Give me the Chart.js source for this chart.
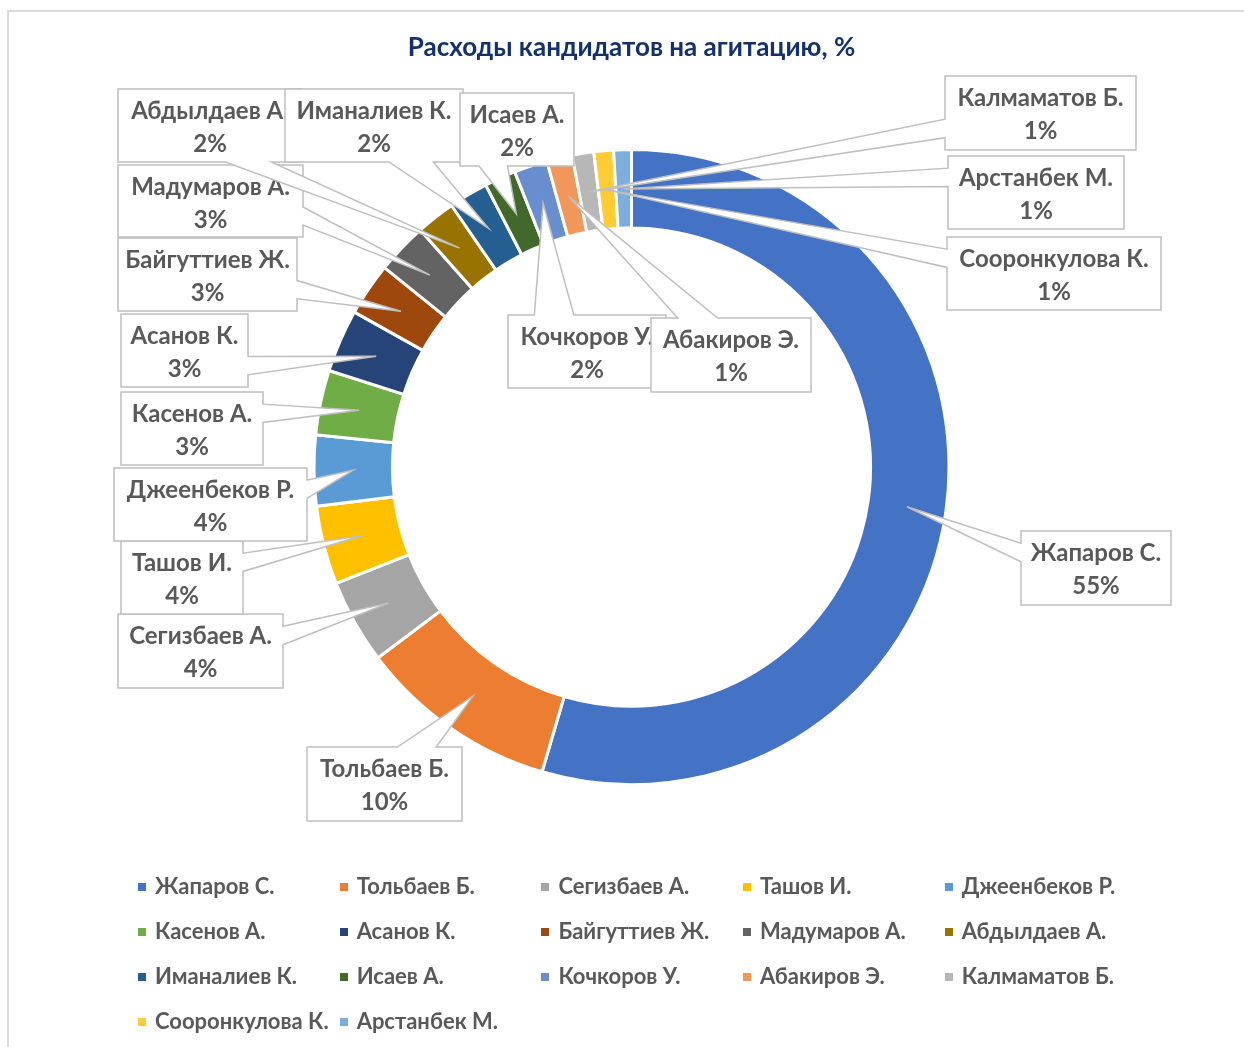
<!DOCTYPE html>
<html>
<head>
<meta charset="utf-8">
<script src="https://cdn.jsdelivr.net/npm/chart.js@4.4.1/dist/chart.umd.min.js"></script>
<style>
  html, body { margin: 0; padding: 0; background: #fff; overflow: hidden; }
  #frame { position: absolute; left: 7px; top: 10px; width: 1300px; height: 1100px;
           border: 2px solid #d9d9d9; box-sizing: border-box; }
  #wrap { position: absolute; left: 0; top: 0; width: 1244px; height: 1047px; }
  #legend { position: absolute; left: 0; top: 0; font-family: Lato, sans-serif;
            font-weight: bold; font-size: 22px; color: #595959; }
  .item { position: absolute; white-space: nowrap; height: 0; }
  .item i { position: absolute; left: 0; top: -4px; width: 8px; height: 8px; }
  .item span { position: absolute; left: 17px; top: -14px; line-height: 26px; }
</style>
</head>
<body>
<div id="frame"></div>
<div id="wrap"><canvas id="chart" width="1244" height="1047"></canvas></div>
<div id="legend"></div>
<script>
const candidates = [
  "Жапаров С.", "Тольбаев Б.", "Сегизбаев А.", "Ташов И.", "Джеенбеков Р.",
  "Касенов А.", "Асанов К.", "Байгуттиев Ж.", "Мадумаров А.", "Абдылдаев А.",
  "Иманалиев К.", "Исаев А.", "Кочкоров У.", "Абакиров Э.", "Калмаматов Б.",
  "Сооронкулова К.", "Арстанбек М."
];
const spending = [54.6, 10.2, 4.3, 4.0, 3.6, 3.3, 3.2, 2.7, 2.6, 2.0, 2.0, 1.6, 1.7, 1.3, 1.1, 1.0, 0.9];
const colors = [
  "#4472C4", "#ED7D31", "#A5A5A5", "#FFC000", "#5B9BD5", "#70AD47", "#264478",
  "#9E480E", "#636363", "#997300", "#255E91", "#43682B", "#698ED0", "#F1975A",
  "#B7B7B7", "#FFCD33", "#7CAFDD"
];

// callout boxes [left, top, right, bottom]
const boxes = [
  [1021, 531, 1171, 605], [307, 747, 462, 821], [118, 614, 283, 688],
  [121, 541, 243, 614], [114, 468, 307, 541], [121, 392, 263, 465],
  [121, 314, 248, 387], [118, 238, 297, 311], [118, 165, 303, 237],
  [118, 89, 302, 162], [285, 89, 463, 162], [460, 93, 574, 166],
  [508, 315, 666, 388], [651, 318, 811, 392], [945, 76, 1136, 150],
  [947, 237, 1161, 310], [948, 156, 1124, 229]
];

const total = spending.reduce((a, b) => a + b, 0);

// Excel-style wedge callout around a label box
function calloutPath(ctx, l, t, r, b, tx, ty) {
  const w = r - l, h = b - t, hc = (l + r) / 2, vc = (t + b) / 2;
  const dx = tx - hc, dy = ty - vc;
  const dz = Math.abs(dy) - Math.abs(dx * h / w);
  const xa = l + w * (dx > 0 ? 7 : 2) / 12, xb = l + w * (dx > 0 ? 10 : 5) / 12;
  const ya = t + h * (dy > 0 ? 7 : 2) / 12, yb = t + h * (dy > 0 ? 10 : 5) / 12;
  ctx.beginPath();
  ctx.moveTo(l, t);
  if (dz > 0 && dy < 0) { ctx.lineTo(xa, t); ctx.lineTo(tx, ty); ctx.lineTo(xb, t); }
  ctx.lineTo(r, t);
  if (dz <= 0 && dx > 0) { ctx.lineTo(r, ya); ctx.lineTo(tx, ty); ctx.lineTo(r, yb); }
  ctx.lineTo(r, b);
  if (dz > 0 && dy > 0) { ctx.lineTo(xb, b); ctx.lineTo(tx, ty); ctx.lineTo(xa, b); }
  ctx.lineTo(l, b);
  if (dz <= 0 && dx < 0) { ctx.lineTo(l, yb); ctx.lineTo(tx, ty); ctx.lineTo(l, ya); }
  ctx.closePath();
}

const calloutLabels = {
  id: "calloutLabels",
  afterDatasetsDraw(chart) {
    const ctx = chart.ctx;
    const arcs = chart.getDatasetMeta(0).data;
    ctx.save();
    arcs.forEach((arc, i) => {
      const p = arc.tooltipPosition();
      const [l, t, r, b] = boxes[i];
      calloutPath(ctx, l, t, r, b, p.x, p.y);
      ctx.fillStyle = "#fff";
      ctx.fill();
      ctx.strokeStyle = "#bfbfbf";
      ctx.lineWidth = 1.5;
      ctx.lineJoin = "miter";
      ctx.stroke();
      ctx.fillStyle = "#595959";
      ctx.font = "bold 24px Lato";
      ctx.textAlign = "center";
      ctx.textBaseline = "middle";
      const cx = (l + r) / 2;
      ctx.fillText(candidates[i], cx, t + 22);
      ctx.fillText(Math.round(spending[i] / total * 100) + "%", cx, t + 55);
    });
    ctx.restore();
  }
};

new Chart(document.getElementById("chart"), {
  type: "doughnut",
  data: {
    labels: candidates,
    datasets: [{
      data: spending,
      backgroundColor: colors,
      borderColor: "#fff",
      borderWidth: 3,
      radius: 317.5
    }]
  },
  options: {
    responsive: false,
    animation: false,
    cutout: "75.3%",
    layout: { padding: { left: 19, right: 0, top: 0, bottom: 176 } },
    plugins: {
      legend: { display: false },
      tooltip: { enabled: false },
      title: {
        display: true,
        text: "Расходы кандидатов на агитацию, %",
        color: "#14306e",
        font: { family: "Lato", size: 26, weight: "bold" },
        padding: { top: 32, bottom: 0 }
      }
    }
  },
  plugins: [calloutLabels]
});

// legend in five columns
const legend = document.getElementById("legend");
candidates.forEach((name, i) => {
  const col = i % 5, row = Math.floor(i / 5);
  const el = document.createElement("div");
  el.className = "item";
  el.style.left = (138 + col * 201.7) + "px";
  el.style.top = (886.5 + row * 45) + "px";
  el.innerHTML = '<i style="background:' + colors[i] + '"></i><span>' + name + "</span>";
  legend.appendChild(el);
});
</script>
</body>
</html>
